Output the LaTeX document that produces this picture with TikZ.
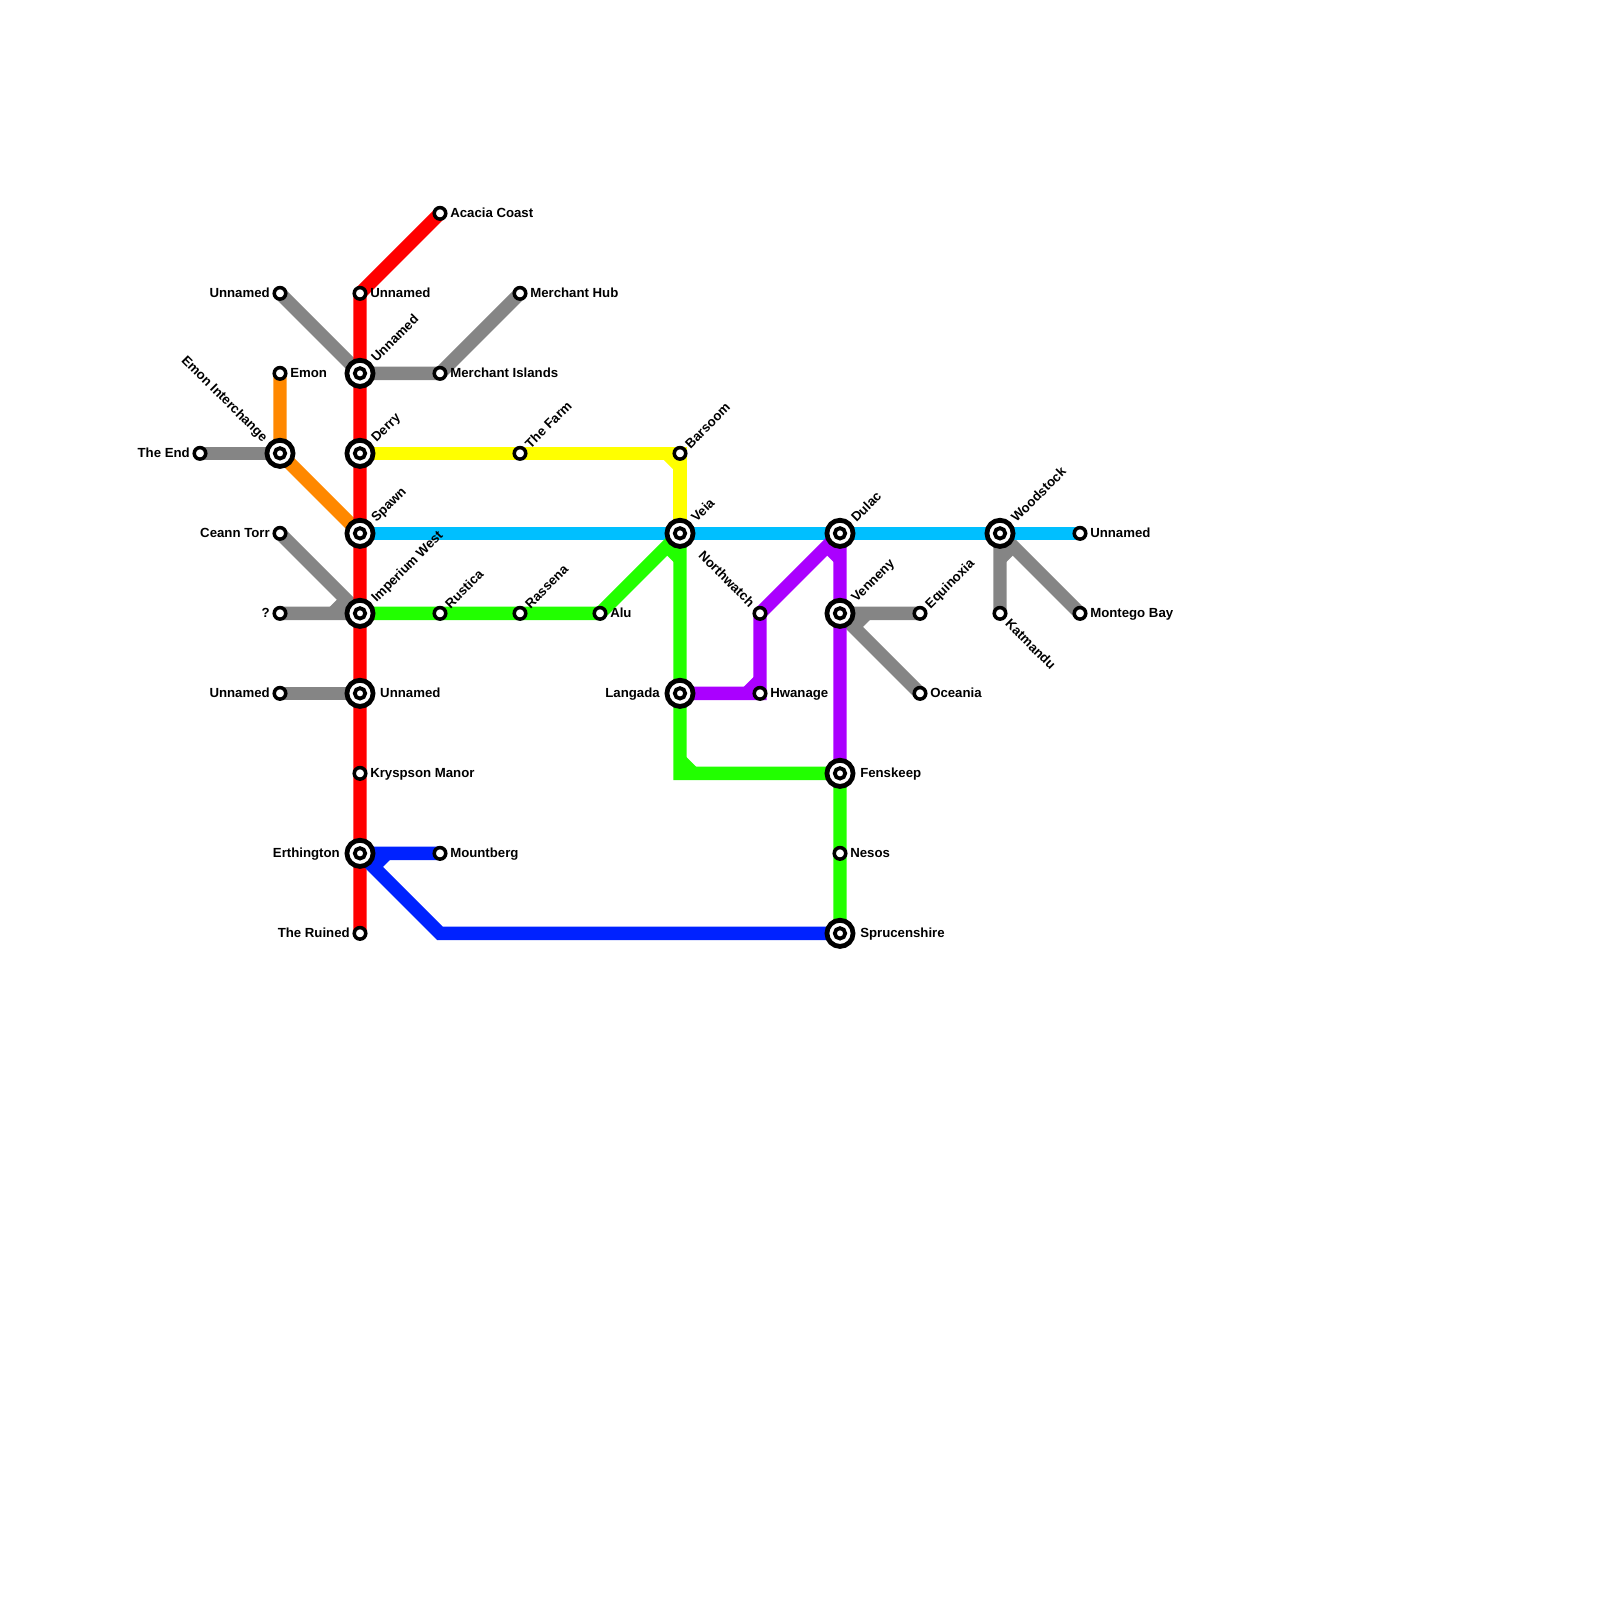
\documentclass[tikz,border=0pt]{standalone}
\usepackage{fontspec}
\setmainfont{Liberation Sans}
\usetikzlibrary{calc}
\usetikzlibrary{backgrounds}
\definecolor{grayline}{HTML}{858585}
\definecolor{orangeline}{HTML}{FF8800}
\definecolor{yellowline}{HTML}{FFFF00}
\definecolor{cyanline}{HTML}{00BFFF}
\definecolor{greenline}{HTML}{22FF00}
\definecolor{purpleline}{HTML}{AA00FF}
\definecolor{blueline}{HTML}{0022FF}
\definecolor{redline}{HTML}{FF0000}
\tikzset{
  metro/.style={line width=4.74pt,line join=miter,miter limit=2},
  stop/.style={circle,draw=black,fill=white,line width=1.25pt,inner sep=0pt,minimum size=4.1pt},
  hub/.style={circle,draw=black,fill=white,line width=1.7pt,inner sep=0pt,minimum size=9.3pt},
  hubdot/.style={circle,draw=black,fill=white,line width=1.35pt,inner sep=0pt,minimum size=3.7pt},
  lbl/.style={font=\fontsize{4.7}{5}\selectfont\bfseries,inner sep=0pt,text height=3.4pt,text depth=0pt,text=black},
  lblE/.style={lbl,anchor=west,xshift=3.45pt,yshift=.3pt},
  lblW/.style={lbl,anchor=east,xshift=-3.45pt,yshift=.3pt},
  hubE/.style={lbl,anchor=west,xshift=7pt,yshift=.3pt},
  hubW/.style={lbl,anchor=east,xshift=-7pt,yshift=.3pt},
  lblNE/.style={lbl,anchor=west,xshift=2.4pt,yshift=2.6pt,rotate=45},
  hubNE/.style={lbl,anchor=west,xshift=4.6pt,yshift=4.8pt,rotate=45},
  lblNW/.style={lbl,anchor=east,xshift=-2.5pt,yshift=3pt,rotate=-45},
  hubNW/.style={lbl,anchor=east,xshift=-4.9pt,yshift=4.9pt,rotate=-45},
  lblSE/.style={lbl,anchor=west,xshift=2.7pt,yshift=-2.7pt,rotate=-45},
}
\begin{document}
\begin{tikzpicture}[x=1cm,y=-1cm]
    \useasboundingbox (-2.5,-2.6667) rectangle (17.5,17.3333);
    % plain stops
    \node[stop] (theEnd) at (0,3) {};
    \node[stop] (unnamedNW) at (1,1) {};
    \node[stop] (emon) at (1,2) {};
    \node[stop] (ceannTorr) at (1,4) {};
    \node[stop] (question) at (1,5) {};
    \node[stop] (unnamedW) at (1,6) {};
    \node[stop] (unnamedTop) at (2,1) {};
    \node[stop] (kryspson) at (2,7) {};
    \node[stop] (ruined) at (2,9) {};
    \node[stop] (acacia) at (3,0) {};
    \node[stop] (merchantIslands) at (3,2) {};
    \node[stop] (rustica) at (3,5) {};
    \node[stop] (mountberg) at (3,8) {};
    \node[stop] (merchantHub) at (4,1) {};
    \node[stop] (farm) at (4,3) {};
    \node[stop] (rassena) at (4,5) {};
    \node[stop] (alu) at (5,5) {};
    \node[stop] (barsoom) at (6,3) {};
    \node[stop] (northwatch) at (7,5) {};
    \node[stop] (hwanage) at (7,6) {};
    \node[stop] (nesos) at (8,8) {};
    \node[stop] (equinoxia) at (9,5) {};
    \node[stop] (oceania) at (9,6) {};
    \node[stop] (katmandu) at (10,5) {};
    \node[stop] (unnamedE) at (11,4) {};
    \node[stop] (montego) at (11,5) {};
    % interchanges
    \foreach \name/\pos in {emonHub/{1,3},unnamedHub/{2,2},derry/{2,3},spawn/{2,4},imperium/{2,5},unnamedS/{2,6},erthington/{2,8},veia/{6,4},langada/{6,6},dulac/{8,4},venneny/{8,5},fenskeep/{8,7},sprucenshire/{8,9},woodstock/{10,4}}
      {\node[hub] (\name) at (\pos) {};
       \node[hubdot] (\name Dot) at (\pos) {};}
    \coordinate (greenBend) at (6,7);
    \coordinate (blueBend) at (3,9);
    % lines
    \begin{scope}[on background layer]
      \draw[metro,grayline] (theEnd.center) -- (emonHub.center);
      \draw[metro,grayline] (unnamedNW.center) -- (unnamedHub.center) -- (merchantIslands.center) -- (merchantHub.center);
      \draw[metro,grayline] (ceannTorr.center) -- (imperium.center) -- (question.center);
      \draw[metro,grayline] ($(imperium)+(-.34,0)$) -- ($(imperium)+(-.17,-.17)$);
      \draw[metro,grayline] (unnamedW.center) -- (unnamedS.center);
      \draw[metro,grayline] (equinoxia.center) -- (venneny.center) -- (oceania.center);
      \draw[metro,grayline] ($(venneny)+(.34,0)$) -- ($(venneny)+(.17,.17)$);
      \draw[metro,grayline] (katmandu.center) -- (woodstock.center) -- (montego.center);
      \draw[metro,grayline] ($(woodstock)+(0,.32)$) -- ($(woodstock)+(.16,.16)$);
      \draw[metro,orangeline] (emon.center) -- (emonHub.center) -- (spawn.center);
      \draw[metro,yellowline] (derry.center) -- (farm.center) -- (barsoom.center) -- (veia.center);
      \draw[metro,yellowline] ($(barsoom)+(-.167,0)$) -- ($(barsoom)+(0,.167)$);
      \draw[metro,cyanline] (spawn.center) -- (veia.center) -- (dulac.center) -- (woodstock.center) -- (unnamedE.center);
      \draw[metro,greenline] (imperium.center) -- (rustica.center) -- (rassena.center) -- (alu.center) -- (veia.center) -- (langada.center) -- (greenBend) -- (fenskeep.center) -- (nesos.center) -- (sprucenshire.center);
      \draw[metro,greenline] ($(veia)+(-.16,.16)$) -- ($(veia)+(0,.32)$);
      \draw[metro,greenline] ($(greenBend)+(0,-.167)$) -- ($(greenBend)+(.167,0)$);
      \draw[metro,purpleline] (langada.center) -- (hwanage.center) -- (northwatch.center) -- (dulac.center) -- (venneny.center) -- (fenskeep.center);
      \draw[metro,purpleline] ($(hwanage)+(-.167,0)$) -- ($(hwanage)+(0,-.167)$);
      \draw[metro,purpleline] ($(dulac)+(-.16,.16)$) -- ($(dulac)+(0,.32)$);
      \draw[metro,redline] (acacia.center) -- (unnamedTop.center) -- (unnamedHub.center) -- (derry.center) -- (spawn.center) -- (imperium.center) -- (unnamedS.center) -- (kryspson.center) -- (erthington.center) -- (ruined.center);
      \draw[metro,blueline] (mountberg.center) -- (erthington.center) -- (blueBend) -- (sprucenshire.center);
      \draw[metro,blueline] ($(erthington)+(.34,0)$) -- ($(erthington)+(.17,.17)$);
    \end{scope}
    % labels
    \node[lblE] (acaciaText) at (acacia) {Acacia Coast};
    \node[lblE] (unnamedTopText) at (unnamedTop) {Unnamed};
    \node[lblW] (unnamedNWText) at (unnamedNW) {Unnamed};
    \node[lblE] (merchantHubText) at (merchantHub) {Merchant Hub};
    \node[lblE] (emonText) at (emon) {Emon};
    \node[lblE] (merchantIslandsText) at (merchantIslands) {Merchant Islands};
    \node[lblW] (theEndText) at (theEnd) {The End};
    \node[lblW] (ceannTorrText) at (ceannTorr) {Ceann Torr};
    \node[lblW] (questionText) at (question) {?};
    \node[lblW] (unnamedWText) at (unnamedW) {Unnamed};
    \node[hubE] (unnamedSText) at (unnamedS) {Unnamed};
    \node[lblE] (kryspsonText) at (kryspson) {Kryspson Manor};
    \node[hubW] (erthingtonText) at (erthington) {Erthington};
    \node[lblE] (mountbergText) at (mountberg) {Mountberg};
    \node[lblW] (ruinedText) at (ruined) {The Ruined};
    \node[hubNW] (emonHubText) at (emonHub) {Emon Interchange};
    \node[hubNE] (unnamedHubText) at (unnamedHub) {Unnamed};
    \node[hubNE] (derryText) at (derry) {Derry};
    \node[hubNE] (spawnText) at (spawn) {Spawn};
    \node[hubNE] (imperiumText) at (imperium) {Imperium West};
    \node[lblNE] (rusticaText) at (rustica) {Rustica};
    \node[lblNE] (rassenaText) at (rassena) {Rassena};
    \node[lblNE] (farmText) at (farm) {The Farm};
    \node[lblE] (aluText) at (alu) {Alu};
    \node[lblNE] (barsoomText) at (barsoom) {Barsoom};
    \node[hubNE] (veiaText) at (veia) {Veia};
    \node[hubW] (langadaText) at (langada) {Langada};
    \node[lblNW] (northwatchText) at (northwatch) {Northwatch};
    \node[lblE] (hwanageText) at (hwanage) {Hwanage};
    \node[hubNE] (dulacText) at (dulac) {Dulac};
    \node[hubNE] (vennenyText) at (venneny) {Venneny};
    \node[lblNE] (equinoxiaText) at (equinoxia) {Equinoxia};
    \node[lblE] (oceaniaText) at (oceania) {Oceania};
    \node[hubE] (fenskeepText) at (fenskeep) {Fenskeep};
    \node[lblE] (nesosText) at (nesos) {Nesos};
    \node[hubE] (sprucenshireText) at (sprucenshire) {Sprucenshire};
    \node[hubNE] (woodstockText) at (woodstock) {Woodstock};
    \node[lblE] (unnamedEText) at (unnamedE) {Unnamed};
    \node[lblSE] (katmanduText) at (katmandu) {Katmandu};
    \node[lblE] (montegoText) at (montego) {Montego Bay};
\end{tikzpicture}
\end{document}
